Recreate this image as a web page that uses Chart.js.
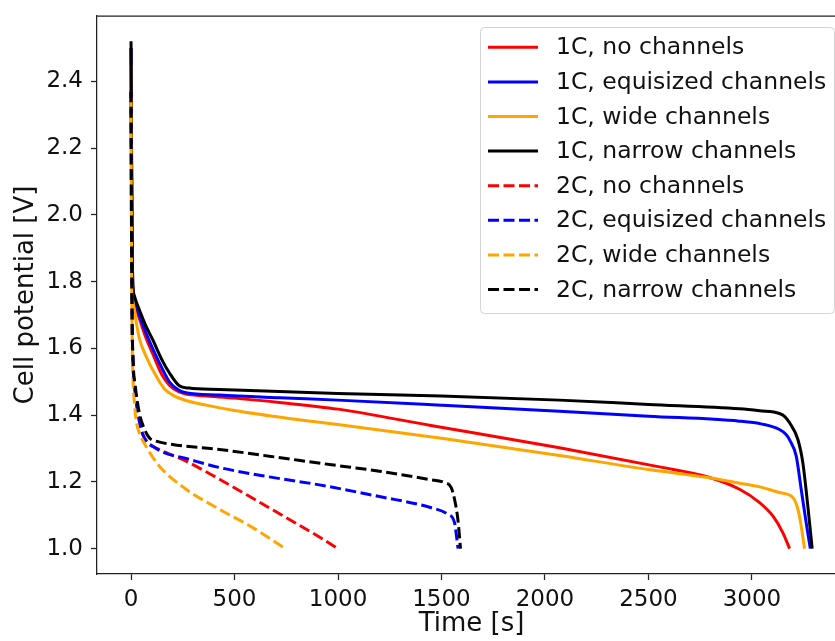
<!DOCTYPE html>
<html lang="en">
<head>
  <meta charset="UTF-8">
  <style>
    html, body { margin: 0; padding: 0; background: #fff; overflow: hidden; }
    .caixa { width: 846px; height: 641px; }
  </style>
</head>
<body>
  <div class="caixa"><canvas id="grafico" width="846" height="641"></canvas></div>

<script src="https://cdn.jsdelivr.net/npm/chart.js"></script>
<script>
  // valores (tempo em s, potencial em V)
  const t1cSem = [0, 2, 5, 8, 20, 40, 70, 104, 150, 185, 230, 266, 350, 500, 717, 999, 1442, 2070, 2553, 2779, 2940, 3037, 3101, 3149, 3182];
  const v1cSem = [2.50, 2.20, 1.92, 1.79, 1.73, 1.69, 1.635, 1.585, 1.52, 1.49, 1.47, 1.463, 1.458, 1.451, 1.438, 1.418, 1.370, 1.302, 1.245, 1.216, 1.178, 1.138, 1.098, 1.048, 1.0];

  const t1cIgual = [0, 2, 5, 8, 15, 25, 40, 70, 104, 150, 185, 230, 266, 427, 717, 999, 1500, 2070, 2500, 2940, 3050, 3133, 3165, 3182, 3214, 3238, 3262, 3282];
  const v1cIgual = [2.50, 2.20, 1.92, 1.79, 1.75, 1.73, 1.70, 1.65, 1.60, 1.54, 1.50, 1.475, 1.467, 1.460, 1.452, 1.445, 1.430, 1.412, 1.397, 1.382, 1.373, 1.357, 1.342, 1.326, 1.277, 1.178, 1.078, 1.0];

  const t1cLargo = [0, 2, 5, 8, 15, 25, 40, 70, 121, 160, 201, 270, 362, 500, 765, 999, 1500, 2070, 2500, 2779, 2940, 3037, 3133, 3198, 3222, 3238, 3254];
  const v1cLargo = [2.45, 2.10, 1.85, 1.76, 1.72, 1.68, 1.63, 1.58, 1.517, 1.48, 1.46, 1.443, 1.43, 1.414, 1.39, 1.372, 1.331, 1.279, 1.237, 1.214, 1.196, 1.185, 1.168, 1.153, 1.118, 1.068, 1.0];

  const t1cEstreito = [0, 2, 5, 8, 15, 25, 40, 70, 104, 150, 185, 233, 280, 427, 717, 999, 1500, 2070, 2500, 2940, 3037, 3133, 3160, 3182, 3222, 3246, 3270, 3291];
  const v1cEstreito = [2.52, 2.25, 1.95, 1.80, 1.76, 1.74, 1.716, 1.67, 1.627, 1.565, 1.527, 1.488, 1.481, 1.477, 1.471, 1.465, 1.457, 1.445, 1.432, 1.419, 1.413, 1.405, 1.395, 1.377, 1.327, 1.257, 1.128, 1.0];

  const t2cSem = [0, 2, 5, 10, 20, 35, 55, 80, 137, 266, 427, 588, 749, 910, 999];
  const v2cSem = [2.37, 2.00, 1.70, 1.55, 1.47, 1.40, 1.345, 1.318, 1.297, 1.262, 1.208, 1.151, 1.093, 1.035, 1.0];

  const t2cIgual = [0, 2, 5, 10, 20, 35, 55, 80, 104, 150, 266, 427, 668, 910, 1200, 1442, 1530, 1563, 1572, 1580];
  const v2cIgual = [2.37, 2.00, 1.70, 1.55, 1.47, 1.40, 1.345, 1.318, 1.307, 1.29, 1.27, 1.243, 1.215, 1.191, 1.156, 1.124, 1.103, 1.078, 1.04, 1.0];

  const t2cLargo = [0, 2, 5, 10, 16, 24, 40, 72, 137, 266, 427, 588, 745];
  const v2cLargo = [2.35, 1.95, 1.65, 1.50, 1.44, 1.387, 1.347, 1.307, 1.247, 1.178, 1.118, 1.063, 1.0];

  const t2cEstreito = [0, 2, 5, 10, 20, 40, 60, 88, 121, 200, 330, 427, 668, 959, 1200, 1442, 1514, 1547, 1563, 1579, 1592];
  const v2cEstreito = [2.37, 2.00, 1.70, 1.56, 1.49, 1.407, 1.365, 1.332, 1.322, 1.312, 1.303, 1.297, 1.277, 1.252, 1.232, 1.207, 1.198, 1.183, 1.148, 1.088, 1.0];

  const rotulos = ['1C, no channels', '1C, equisized channels', '1C, wide channels', '1C, narrow channels',
                   '2C, no channels', '2C, equisized channels', '2C, wide channels', '2C, narrow channels'];
  const ticksX = [0, 500, 1000, 1500, 2000, 2500, 3000];
  const ticksY = [1.0, 1.2, 1.4, 1.6, 1.8, 2.0, 2.2, 2.4];

  const cores = ['#ff0000', '#0000ff', '#ffa500', '#000000'];
  const fonte = 'DejaVu Sans';
  const corTexto = '#111';
  const corEixo = '#222';

  const pontos = (ts, vs) => ts.map((t, i) => ({ x: t, y: vs[i] }));

  const series = [
    [t1cSem, v1cSem], [t1cIgual, v1cIgual], [t1cLargo, v1cLargo], [t1cEstreito, v1cEstreito],
    [t2cSem, v2cSem], [t2cIgual, v2cIgual], [t2cLargo, v2cLargo], [t2cEstreito, v2cEstreito]
  ];

  const datasets = series.map((s, i) => ({
    label: rotulos[i],
    data: pontos(s[0], s[1]),
    borderColor: cores[i % 4],
    borderWidth: 3,
    borderDash: i >= 4 ? [11, 4.5] : [],
    borderCapStyle: 'butt',
    borderJoinStyle: 'round',
    cubicInterpolationMode: 'monotone',
    pointRadius: 0,
    fill: false,
    order: 20 - i   // as ultimas ficam por cima, como no original
  }));

  // linha de cima da moldura
  const moldura = {
    id: 'moldura',
    afterDraw(chart) {
      const { ctx, chartArea } = chart;
      ctx.save();
      ctx.strokeStyle = corEixo;
      ctx.lineWidth = 1.25;
      ctx.beginPath();
      ctx.moveTo(chartArea.left, chartArea.top);
      ctx.lineTo(chartArea.right, chartArea.top);
      ctx.stroke();
      ctx.restore();
    }
  };

  // legenda no canto superior direito
  const legenda = {
    id: 'legenda',
    afterDraw(chart) {
      const { ctx, chartArea } = chart;
      const x0 = chartArea.right - 366, y0 = chartArea.top + 11;
      ctx.save();
      ctx.fillStyle = 'rgba(255,255,255,0.85)';
      ctx.strokeStyle = '#d4d4d4';
      ctx.lineWidth = 1;
      ctx.beginPath();
      ctx.roundRect(x0 + 0.5, y0 + 0.5, 354, 286, 4);
      ctx.fill();
      ctx.stroke();
      ctx.font = `23.5px "${fonte}"`;
      ctx.textBaseline = 'middle';
      chart.data.datasets.forEach((ds, i) => {
        const yy = y0 + 20.3 + i * 34.6;
        ctx.strokeStyle = ds.borderColor;
        ctx.lineWidth = 3;
        ctx.setLineDash(ds.borderDash);
        ctx.beginPath();
        ctx.moveTo(x0 + 8, yy);
        ctx.lineTo(x0 + 58, yy);
        ctx.stroke();
        ctx.setLineDash([]);
        ctx.fillStyle = corTexto;
        ctx.fillText(ds.label, x0 + 76, yy + 1);
      });
      ctx.restore();
    }
  };

  new Chart(document.getElementById('grafico'), {
    type: 'line',
    data: { datasets: datasets },
    options: {
      responsive: false,
      animation: false,
      layout: { padding: { top: 16, right: 0, left: 0, bottom: 0 } },
      plugins: { legend: { display: false }, tooltip: { enabled: false } },
      scales: {
        x: {
          type: 'linear',
          min: -164.5,
          max: 3454.5,
          afterBuildTicks: s => { s.ticks = ticksX.map(v => ({ value: v })); },
          afterFit: s => { s.height = 67; s.paddingLeft = 0; s.paddingRight = 0; },
          ticks: { font: { family: fonte, size: 23 }, color: corTexto, padding: 6, maxRotation: 0, callback: v => String(v) },
          grid: { display: true, drawOnChartArea: false, drawTicks: true, tickLength: 6, tickWidth: 1.25, color: corEixo },
          border: { display: true, color: corEixo, width: 1.25 },
          title: { display: true, text: 'Time [s]', font: { family: fonte, size: 26 }, color: corTexto, padding: { top: 0, bottom: 1 } }
        },
        y: {
          min: 0.924,
          max: 2.596,
          afterBuildTicks: s => { s.ticks = ticksY.map(v => ({ value: v })); },
          afterFit: s => { s.width = 97; s.paddingTop = 0; s.paddingBottom = 0; },
          ticks: { font: { family: fonte, size: 23 }, color: corTexto, padding: 8, callback: v => v.toFixed(1) },
          grid: { display: true, drawOnChartArea: false, drawTicks: true, tickLength: 6, tickWidth: 1.25, color: corEixo },
          border: { display: true, color: corEixo, width: 1.25 },
          title: { display: true, text: 'Cell potential [V]', font: { family: fonte, size: 26 }, color: corTexto, padding: { top: 11, bottom: 0 } }
        }
      }
    },
    plugins: [moldura, legenda]
  });
</script>
</body>
</html>
